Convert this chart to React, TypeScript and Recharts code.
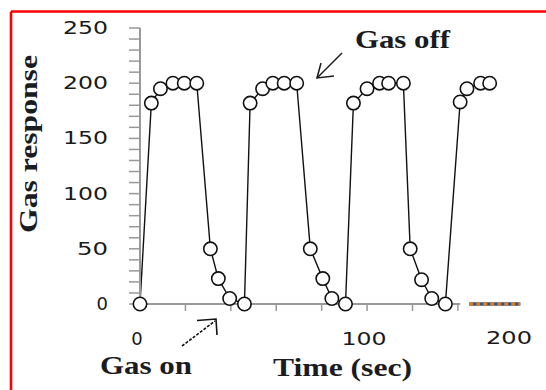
import { Line, LineChart, XAxis, YAxis } from "recharts";

// time (sec) and response, four on/off cycles
const times = [
  0, 5, 9, 14.5, 19.5, 25, 31, 34.5, 39.5, 46,
  48.5, 54, 58.5, 63.5, 69, 75, 80.5, 84.5, 90.5,
  94, 100, 105.5, 109.5, 116, 119, 124, 128.5, 134.5,
  141, 144, 150, 154,
];
const response = [
  0, 182, 195, 200, 200, 200, 50, 23, 5, 0,
  182, 195, 200, 200, 200, 50, 23, 5, 0,
  182, 195, 200, 200, 200, 50, 22, 5, 0,
  183, 195, 200, 200,
];

const yTicks = [
  0, 10, 20, 30, 40, 50, 60, 70, 80, 90, 100, 110, 120, 130, 140, 150, 160,
  170, 180, 190, 200, 210, 220, 230, 240, 250,
];
const yLabels = [0, 50, 100, 150, 200, 250];
const xTicks = [0, 20, 40, 60, 80, 100, 120, 140];
const xLabels = [0, 100];
const axisSpan = [0, 141];
const dottedSpan = [145, 167.5];

const data = times.map((t, i) => ({ t, v: response[i] }));
const axisData = axisSpan.map((t) => ({ t, v: 0 }));
const dottedData = dottedSpan.map((t) => ({ t, v: 0 }));

const TICK_FONT = "'DejaVu Sans', Verdana, sans-serif";
const TITLE_FONT = "'Liberation Serif', 'Times New Roman', serif";
const TITLE_COLOR = "#1b1b22";

const stretch = (s: string) =>
  s.length === 3 ? 45 : s.length === 2 ? 31 : undefined;

const YTick = ({ x, y, payload }: any) => {
  if (!yLabels.includes(payload.value)) return <g />;
  const s = String(payload.value);
  return (
    <text
      x={x}
      y={y}
      dy="0.33em"
      textAnchor="end"
      fontFamily={TICK_FONT}
      fontSize={18}
      fill="#1a1a1a"
      textLength={stretch(s)}
      lengthAdjust="spacingAndGlyphs"
    >
      {s}
    </text>
  );
};

const XTick = ({ x, y, payload }: any) => {
  if (!xLabels.includes(payload.value)) return <g />;
  const s = String(payload.value);
  return (
    <text
      x={x - 3}
      y={y}
      dy="0.72em"
      textAnchor="middle"
      fontFamily={TICK_FONT}
      fontSize={18}
      fill="#1a1a1a"
      textLength={stretch(s)}
      lengthAdjust="spacingAndGlyphs"
    >
      {s}
    </text>
  );
};

const Circle = ({ cx, cy, index }: any) => (
  <circle
    key={`dot-${index}`}
    cx={cx}
    cy={cy}
    r={6.7}
    fill="#fff"
    stroke="#111"
    strokeWidth={1.6}
  />
);

export default function App() {
  return (
    <div
      style={{
        position: "absolute",
        left: 0,
        top: 0,
        width: 546,
        height: 390,
        background: "#fff",
      }}
    >
      <LineChart
        width={546}
        height={390}
        data={data}
        margin={{ top: 28, right: 20, bottom: 0, left: 0 }}
      >
        <XAxis
          dataKey="t"
          type="number"
          domain={[0, 170]}
          ticks={xTicks}
          interval={0}
          height={86}
          axisLine={false}
          tickLine={{ stroke: "#999", strokeWidth: 1.5 }}
          tickSize={7}
          tickMargin={21}
          tick={<XTick />}
        />
        <YAxis
          type="number"
          domain={[0, 250]}
          ticks={yTicks}
          interval={0}
          width={140}
          axisLine={{ stroke: "#999", strokeWidth: 2 }}
          tickLine={{ stroke: "#999", strokeWidth: 1.5 }}
          tickSize={11}
          tickMargin={21}
          tick={<YTick />}
        />
        <Line
          data={axisData}
          dataKey="v"
          stroke="#999"
          strokeWidth={2}
          dot={false}
          activeDot={false}
          isAnimationActive={false}
        />
        <Line
          data={dottedData}
          dataKey="v"
          stroke="#2a4f9a"
          strokeWidth={3.5}
          dot={false}
          activeDot={false}
          isAnimationActive={false}
        />
        <Line
          data={dottedData}
          dataKey="v"
          stroke="#d9821e"
          strokeWidth={3.5}
          strokeDasharray="4 3"
          dot={false}
          activeDot={false}
          isAnimationActive={false}
        />
        <Line
          dataKey="v"
          stroke="#111"
          strokeWidth={1.4}
          dot={<Circle />}
          activeDot={false}
          isAnimationActive={false}
        />
      </LineChart>
      <svg
        width={546}
        height={390}
        style={{ position: "absolute", left: 0, top: 0, pointerEvents: "none" }}
      >
        {/* red frame */}
        <line x1={11} y1={11.5} x2={546} y2={11.5} stroke="#f00" strokeWidth={2.6} />
        <line x1={11} y1={11.5} x2={11} y2={390} stroke="#f00" strokeWidth={2.6} />
        <text
          transform="translate(37 233) rotate(-90)"
          fontFamily={TITLE_FONT}
          fontWeight="bold"
          fontSize={25}
          fill={TITLE_COLOR}
          textLength={178}
          lengthAdjust="spacingAndGlyphs"
        >
          Gas response
        </text>
        <text
          x={273}
          y={376}
          fontFamily={TITLE_FONT}
          fontWeight="bold"
          fontSize={25}
          fill={TITLE_COLOR}
          textLength={139}
          lengthAdjust="spacingAndGlyphs"
        >
          Time (sec)
        </text>
        <text
          x={355}
          y={48}
          fontFamily={TITLE_FONT}
          fontWeight="bold"
          fontSize={25}
          fill={TITLE_COLOR}
          textLength={95}
          lengthAdjust="spacingAndGlyphs"
        >
          Gas off
        </text>
        <text
          x={100}
          y={374}
          fontFamily={TITLE_FONT}
          fontWeight="bold"
          fontSize={25}
          fill={TITLE_COLOR}
          textLength={92}
          lengthAdjust="spacingAndGlyphs"
        >
          Gas on
        </text>
        <text
          x={509}
          y={338}
          dy="0.35em"
          textAnchor="middle"
          fontFamily={TICK_FONT}
          fontSize={18}
          fill="#1a1a1a"
          textLength={46}
          lengthAdjust="spacingAndGlyphs"
        >
          200
        </text>
        {/* Gas off arrow */}
        <g stroke="#1a1a1a" strokeWidth={1.5} fill="none">
          <line x1={342} y1={53} x2={317} y2={78} />
          <polyline points="321,63 317,78 334,76" />
        </g>
        {/* Gas on arrow */}
        <g stroke="#111" strokeWidth={1.6} fill="none">
          <line x1={182} y1={346} x2={215} y2={321} strokeDasharray="3 1.5" />
          <polyline points="197,320.5 216,319 217,335" />
        </g>
      </svg>
    </div>
  );
}
